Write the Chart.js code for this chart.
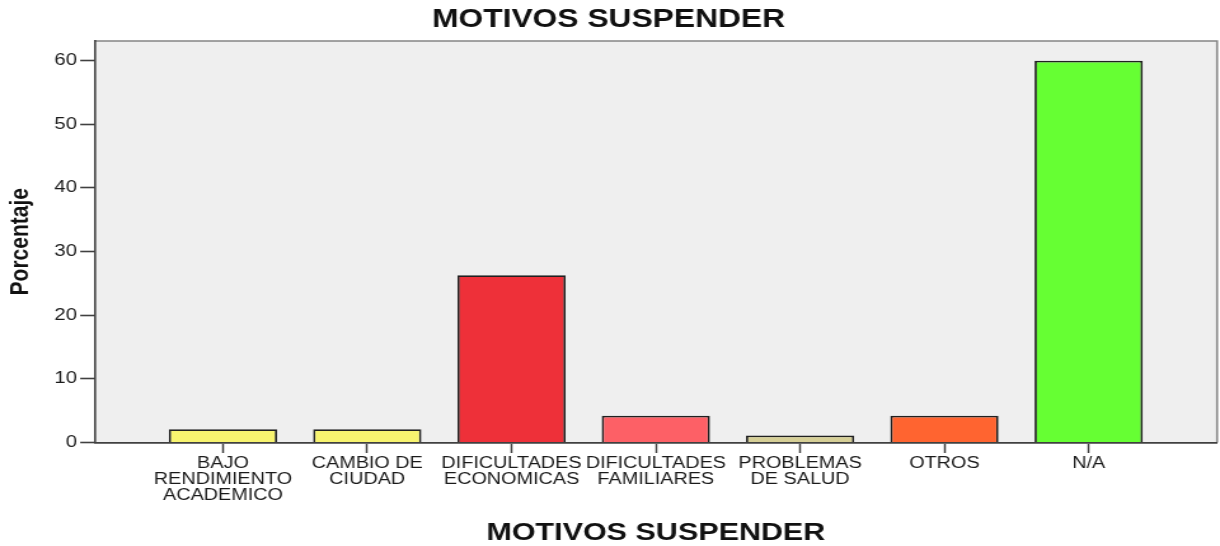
<!DOCTYPE html>
<html>
<head>
<meta charset="utf-8">
<script src="https://cdn.jsdelivr.net/npm/chart.js@4/dist/chart.umd.min.js"></script>
<style>
    body { margin: 0; background: #ffffff; }
    #motivos-chart { display: block; }
</style>
</head>
<body>
<canvas id="motivos-chart" width="960" height="546" style="width:1220px;height:546px"></canvas>
<script>

// Categories, one array entry per label line
var motivos = [
    ["BAJO", "RENDIMIENTO", "ACADEMICO"],
    ["CAMBIO DE", "CIUDAD"],
    ["DIFICULTADES", "ECONOMICAS"],
    ["DIFICULTADES", "FAMILIARES"],
    ["PROBLEMAS", "DE SALUD"],
    ["OTROS"],
    ["N/A"]
];

// Percentage per reason
var porcentajes = [2.1, 2.1, 26.3, 4.2, 1.1, 4.2, 60.0];

// Y axis ticks
var yTicks = [0, 10, 20, 30, 40, 50, 60];

var barColors = ["#f8f46f", "#f8f46f", "#ee3039", "#fd6066", "#d6cf96", "#ff6430", "#66ff33"];

var fontFamily = "'Liberation Sans', Arial, sans-serif";

// Gray plot background plus the top and right frame lines
var plotFrame = {
    id: 'plotFrame',
    beforeDraw: function (chart) {
        var a = chart.chartArea;
        var ctx = chart.ctx;
        ctx.save();
        ctx.fillStyle = '#efefef';
        ctx.fillRect(a.left, a.top, a.right - a.left, a.bottom - a.top);
        ctx.strokeStyle = '#858585';
        ctx.lineWidth = 1.6;
        ctx.beginPath();
        ctx.moveTo(a.left, a.top);
        ctx.lineTo(a.right, a.top);
        ctx.lineTo(a.right, a.bottom);
        ctx.stroke();
        ctx.restore();
    }
};

function motivosDisplay() {
    var canvas = document.getElementById("motivos-chart");
    new Chart(canvas, {
        type: 'bar',
        data: {
            datasets: [{
                data: porcentajes.map(function (v, i) { return { x: i, y: v }; }),
                backgroundColor: barColors,
                borderColor: '#202020',
                borderWidth: 1.8,
                barPercentage: 0.75,
                categoryPercentage: 1
            }]
        },
        plugins: [plotFrame],
        options: {
            responsive: false,
            animation: false,
            devicePixelRatio: 1,
            layout: { padding: { top: 0, right: 2.3, bottom: 0, left: 0 } },
            plugins: {
                legend: { display: false },
                tooltip: { enabled: false },
                title: {
                    display: true,
                    text: 'MOTIVOS SUSPENDER',
                    color: '#111',
                    font: { family: fontFamily, size: 25, weight: 'bold', lineHeight: 1.2 },
                    padding: { top: 5, bottom: 6 }
                }
            },
            scales: {
                x: {
                    type: 'linear',
                    offset: false,
                    min: -0.89,
                    max: 6.89,
                    afterBuildTicks: function (scale) {
                        scale.ticks = motivos.map(function (m, i) { return { value: i }; });
                    },
                    afterFit: function (scale) { scale.height = 103.5; },
                    ticks: {
                        autoSkip: false,
                        maxRotation: 0,
                        padding: 3.2,
                        color: '#1a1a1a',
                        font: { family: fontFamily, size: 15.6, lineHeight: 1.01 },
                        callback: function (value) { return motivos[value]; }
                    },
                    grid: {
                        offset: false,
                        drawOnChartArea: false,
                        tickLength: 10.5,
                        tickWidth: 1.5,
                        tickColor: '#404040'
                    },
                    border: { color: '#404040', width: 1.8 },
                    title: {
                        display: true,
                        text: 'MOTIVOS SUSPENDER',
                        color: '#111',
                        font: { family: fontFamily, size: 24, weight: 'bold', lineHeight: 1 },
                        padding: { top: 0, bottom: 1 }
                    }
                },
                y: {
                    min: 0,
                    max: 63.1,
                    afterBuildTicks: function (scale) {
                        scale.ticks = yTicks.map(function (v) { return { value: v }; });
                    },
                    afterFit: function (scale) { scale.width = 74.4; },
                    ticks: {
                        padding: 2.5,
                        color: '#1a1a1a',
                        font: { family: fontFamily, size: 16 }
                    },
                    grid: {
                        drawOnChartArea: false,
                        tickLength: 11.3,
                        tickWidth: 1.6,
                        tickColor: '#404040'
                    },
                    border: { color: '#404040', width: 1.6 },
                    title: {
                        display: true,
                        text: 'Porcentaje',
                        color: '#111',
                        font: { family: fontFamily, size: 21, weight: 'bold', lineHeight: 1 },
                        padding: { top: 6, bottom: 0 }
                    }
                }
            }
        }
    });
    // the drawing is widened to the full page width
    canvas.style.width = '1220px';
    canvas.style.height = '546px';
}

motivosDisplay();
</script>
</body>
</html>
